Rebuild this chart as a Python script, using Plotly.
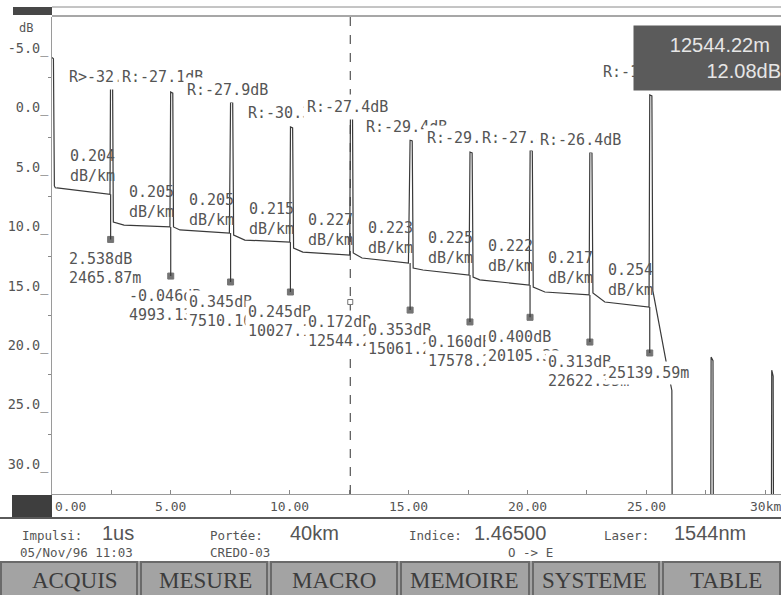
import plotly.graph_objects as go

# ---------------- data ----------------
# OTDR trace (distance km, level dB; dB axis grows downward)
trace_km = [0.00, 0.06, 0.10, 0.14, 0.21, 2.44,
            2.46, 2.55, 2.58, 3.03, 4.96,
            4.99, 5.08, 5.11, 5.38, 7.46,
            7.51, 7.60, 7.64, 8.11, 10.00,
            10.03, 10.12, 10.16, 10.55, 12.52,
            12.55, 12.64, 12.67, 13.04, 14.99,
            15.06, 15.15, 15.19, 15.60, 17.54,
            17.58, 17.67, 17.71, 17.99, 20.07,
            20.11, 20.20, 20.24, 20.73, 22.59,
            22.62, 22.71, 22.75, 23.25, 25.11,
            25.14, 25.23, 25.27, 25.84, 26.07, 26.09,
            27.70, 27.72, 27.80, 27.82,
            30.25, 30.27, 30.33, 30.35, 30.70]
trace_db = [-4.20, -4.10, 6.60, 6.75, 6.77, 7.30,
            -1.64, -1.55, 9.63, 9.89, 10.05,
            -1.30, -1.20, 10.05, 10.30, 10.56,
            -0.46, -0.40, 10.73, 11.15, 11.32,
            1.64, 1.72, 11.82, 12.16, 12.41,
            0.89, 0.97, 12.24, 12.66, 13.08,
            2.74, 2.82, 13.50, 13.67, 14.09,
            3.75, 3.82, 14.26, 14.50, 14.93,
            3.58, 3.66, 15.10, 15.52, 15.77,
            3.75, 3.82, 15.60, 16.36, 16.78,
            -1.05, -0.98, 15.40, 21.50, 23.80, 40.0,
            40.0, 21.00, 21.30, 40.0,
            40.0, 22.10, 22.60, 40.0, 40.0]

event_km = [2.46587, 4.99313, 7.51016, 10.02719, 12.54422,
            15.06125, 17.57828, 20.10532, 22.62235, 25.13959]
event_peak_db = [-1.64, -1.30, -0.46, 1.64, 0.89, 2.74, 3.75, 3.58, 3.75, -1.05]
event_level_db = [7.30, 10.05, 10.56, 11.32, 12.41, 13.08, 14.09, 14.93, 15.77, 16.78]
marker_db = [11.10, 14.18, 14.68, 15.52, 16.36, 17.04, 18.04, 17.65, 19.73, 20.65]
reflect_text = ["R>-32.0dB", "R:-27.1dB", "R:-27.9dB", "R:-30.3dB", "R:-27.4dB",
                "R:-29.4dB", "R:-29.6dB", "R:-27.8dB", "R:-26.4dB", "R:-14.6dB"]
loss_text = ["2.538dB", "-0.046dB", "0.345dB", "0.245dB", "0.172dB",
             "0.353dB", "0.160dB", "0.400dB", "0.313dB", ""]
dist_text = ["2465.87m", "4993.13m", "7510.16m", "10027.19m", "12544.22m",
             "15061.25m", "17578.28m", "20105.32m", "22622.35m", "25139.59m"]
slope_text = ["0.204", "0.205", "0.205", "0.215", "0.227",
              "0.223", "0.225", "0.222", "0.217", "0.254"]
segment_start_km = [0.0] + event_km[:-1]
segment_start_db = [6.77, 9.63, 10.05, 10.73, 11.82, 12.24, 13.50, 14.26, 15.10, 15.60]
cursor_index = 4
cursor_text = ["12544.22m", "12.08dB"]

x_ticks = [0, 5, 10, 15, 20, 25, 30]
x_tick_text = ["0.00", "5.00", "10.00", "15.00", "20.00", "25.00", "30km"]
y_ticks = [-5, 0, 5, 10, 15, 20, 25, 30]
y_tick_text = ["-5.0_", "0.0_", "5.0_", "10.0_", "15.0_", "20.0_", "25.0_", "30.0_"]

info_row1 = [("Impulsi:", "1us"), ("Portée:", "40km"), ("Indice:", "1.46500"), ("Laser:", "1544nm")]
info_row2 = ["05/Nov/96 11:03", "CREDO-03", "O -> E"]
menu_items = ["ACQUIS", "MESURE", "MACRO", "MEMOIRE", "SYSTEME", "TABLE"]

# ---------------- layout geometry / styles ----------------
W, H = 781, 595
L, R, T, B = 52, 0, 17, 101
PW, PH = W - L - R, H - T - B
def px(x):
    return (x - L) / PW
def py(y):
    return (H - B - y) / PH

MONO = "DejaVu Sans Mono"
SANS = "Liberation Sans"
SERIF = "Liberation Serif"
INK = "#3a3a3a"
GREY = "#555555"

r_shift = [(-46, 11), (-53, 15), (-48, 12), (-46, 14), (-47, 11),
           (-48, 13), (-47, 14), (-52, 12), (-54, 12), (-51, 23)]
slope_yshift = [22, 20, 17, 16, 18, 15, 20, 21, 19, 13]

fig = go.Figure()

fig.add_trace(go.Scatter(x=trace_km, y=trace_db, mode="lines",
                         line=dict(color=INK, width=1.2), hoverinfo="skip"))

# marker drop lines
mx, my = [], []
for i, (k, lv, m) in enumerate(zip(event_km, event_level_db, marker_db)):
    if i == cursor_index:
        continue
    mx += [k, k, None]
    my += [lv, m, None]
fig.add_trace(go.Scatter(x=mx, y=my, mode="lines",
                         line=dict(color=INK, width=1.2), hoverinfo="skip"))
fig.add_trace(go.Scatter(
    x=event_km, y=marker_db, mode="markers",
    marker=dict(symbol=["square-open" if i == cursor_index else "square" for i in range(len(event_km))],
                size=[5 if i == cursor_index else 6 for i in range(len(event_km))],
                color=INK, line=dict(color=INK, width=1)),
    hoverinfo="skip"))

ann = []
lab_font = dict(family=MONO, size=15, color=GREY)

# slope labels
for k, d, t, ys in zip(segment_start_km, segment_start_db, slope_text, slope_yshift):
    ann.append(dict(x=k, y=d, xref="x", yref="y", text=t + "<br>dB/km", showarrow=False,
                    xanchor="left", yanchor="middle", align="left", xshift=16, yshift=ys,
                    font=lab_font))

# reflectance labels
for k, p, t, (dx, dy) in zip(event_km, event_peak_db, reflect_text, r_shift):
    ann.append(dict(x=k, y=p, xref="x", yref="y", text=t, showarrow=False,
                    xanchor="left", yanchor="middle", xshift=dx, yshift=dy,
                    bgcolor="white", borderpad=3, font=lab_font))

# loss / distance labels
for k, m, lt, dt in zip(event_km, marker_db, loss_text, dist_text):
    lines = [s for s in (lt, dt) if s]
    for j, s in enumerate(lines):
        ann.append(dict(x=k, y=m, xref="x", yref="y", text=s, showarrow=False,
                        xanchor="left", yanchor="middle", xshift=-45, yshift=-20 - 19 * j,
                        bgcolor="white", borderpad=2, font=lab_font))

# cursor readout box
ann.append(dict(x=px(633), y=py(25), xref="paper", yref="paper", xanchor="left", yanchor="top",
                text=cursor_text[0] + "\u00a0\u00a0<br>" + cursor_text[1], showarrow=False,
                width=146, height=62, align="right", valign="middle", bgcolor="#5b5b5b",
                borderpad=1, font=dict(family=SANS, size=20, color="#e6e6e6")))

# x tick labels
for v, t in zip(x_ticks, x_tick_text):
    ann.append(dict(x=v, y=py(507), xref="x", yref="paper", text=t, showarrow=False,
                    xanchor="left" if v == 0 else "center", yanchor="middle",
                    xshift=1 if v == 0 else 0,
                    font=dict(family=MONO, size=13, color=GREY)))

# dB unit
ann.append(dict(x=px(26), y=py(28), xref="paper", yref="paper", text="dB", showarrow=False,
                xanchor="center", yanchor="middle", font=dict(family=MONO, size=12, color=GREY)))

# info rows
lab_x = [20, 208, 407, 602]
val_x = [100, 288, 472, 672]
for (lab, val), lx, vx in zip(info_row1, lab_x, val_x):
    ann.append(dict(x=px(lx), y=py(535), xref="paper", yref="paper", text=lab, showarrow=False,
                    xanchor="left", yanchor="middle", font=dict(family=MONO, size=12.5, color=GREY)))
    ann.append(dict(x=px(vx), y=py(533), xref="paper", yref="paper", text=val, showarrow=False,
                    xanchor="left", yanchor="middle", font=dict(family=SANS, size=20, color=GREY)))
row2_x = [18, 208, 530]
for t, x0 in zip(info_row2, row2_x):
    ann.append(dict(x=px(x0), y=py(552), xref="paper", yref="paper", text=t, showarrow=False,
                    xanchor="center" if x0 == 530 else "left", yanchor="middle",
                    font=dict(family=MONO, size=12.5, color=GREY)))

# menu
btn_edges = [(0, 138), (140, 268), (270, 398), (400, 530), (532, 660), (662, 781)]
btn_centers = [75, 205, 334, 464, 594, 726]
shapes = []
shapes.append(dict(type="rect", xref="paper", yref="paper", x0=px(0), x1=px(781),
                   y0=py(595), y1=py(561), fillcolor="#a3a3a3", line=dict(width=0), layer="above"))
for (a, b), c, t in zip(btn_edges, btn_centers, menu_items):
    shapes.append(dict(type="rect", xref="paper", yref="paper", x0=px(a + 1), x1=px(b - 1),
                       y0=py(596), y1=py(562), line=dict(color="#6a6a6a", width=2),
                       fillcolor="rgba(0,0,0,0)", layer="above"))
    ann.append(dict(x=px(c), y=py(580), xref="paper", yref="paper", text=t, showarrow=False,
                    xanchor="center", yanchor="middle",
                    font=dict(family=SERIF, size=23, color="#3c3c3c")))

# header and footer decorations
shapes += [
    dict(type="rect", xref="paper", yref="paper", x0=px(13), x1=px(52), y0=py(15), y1=py(7),
         fillcolor="#474747", line=dict(width=0)),
    dict(type="line", xref="paper", yref="paper", x0=px(52), x1=px(781), y0=py(7), y1=py(7),
         line=dict(color="#8a8a8a", width=1)),
    dict(type="line", xref="paper", yref="paper", x0=px(52), x1=px(781), y0=py(16), y1=py(16),
         line=dict(color="#8a8a8a", width=1.5)),
    dict(type="rect", xref="paper", yref="paper", x0=px(12), x1=px(52), y0=py(517), y1=py(495),
         fillcolor="#3e3e3e", line=dict(width=0)),
    dict(type="line", xref="paper", yref="paper", x0=px(0), x1=px(781), y0=py(518), y1=py(518),
         line=dict(color="#5a5a5a", width=2)),
    dict(type="line", xref="x", yref="paper", x0=event_km[cursor_index], x1=event_km[cursor_index],
         y0=0, y1=1, line=dict(color="#333333", width=1, dash="dash"), layer="above"),
]

fig.update_layout(
    width=W, height=H, autosize=False,
    margin=dict(l=L, r=R, t=T, b=B, pad=0),
    paper_bgcolor="white", plot_bgcolor="white",
    showlegend=False,
    annotations=ann, shapes=shapes,
    xaxis=dict(range=[0, 30.66], tickvals=[0, 2.5, 5, 7.5, 10, 12.5, 15, 17.5, 20, 22.5, 25, 27.5, 30],
               showticklabels=False, ticks="inside", ticklen=4, tickcolor="#888",
               showgrid=False, zeroline=False, showline=True, linecolor="#9a9a9a", linewidth=1),
    yaxis=dict(range=[32.51, -7.61], tickvals=y_ticks, ticktext=y_tick_text,
               ticks="", tickfont=dict(family=MONO, size=13.5, color=GREY),
               minor=dict(tickvals=[-2.5, 2.5, 7.5, 12.5, 17.5, 22.5, 27.5], ticks="outside",
                          ticklen=3, tickcolor="#888"),
               showgrid=False, zeroline=False, showline=True, linecolor="#9a9a9a", linewidth=1),
)

fig.write_html("out.html", config={"displayModeBar": False},
               post_script="document.body.style.margin='0';")
